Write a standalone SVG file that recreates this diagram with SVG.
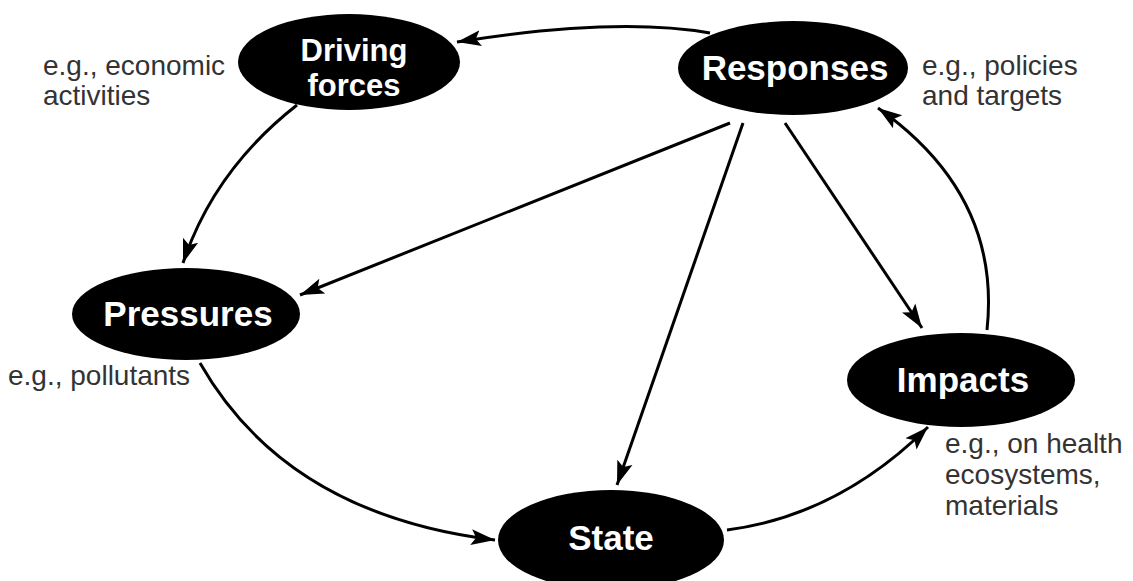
<svg xmlns="http://www.w3.org/2000/svg" width="1133" height="581" viewBox="0 0 1133 581">
<style>
.node{fill:#000}
.lbl{fill:#fff;font-family:"Liberation Sans",Arial,sans-serif;font-weight:bold;font-size:35px;text-anchor:middle}
.lbl2{font-size:31px}
.note{fill:#333;font-family:"Liberation Sans",Arial,sans-serif;font-size:28px}
.conn{fill:none;stroke:#000;stroke-width:3}
</style>
<defs>
<marker id="arr" markerUnits="userSpaceOnUse" markerWidth="26" markerHeight="20" viewBox="0 0 26 20" refX="24" refY="10" orient="auto">
<path d="M0,2 L24,10 L0,18 L5,10 Z" fill="#000"/>
</marker>
</defs>
<rect width="1133" height="581" fill="#fff"/>
<g id="connectors">
<path class="conn" d="M710,33 Q616.5,16.5 457,42" marker-end="url(#arr)"/>
<path class="conn" d="M297,105 Q214,170 183,263" marker-end="url(#arr)"/>
<path class="conn" d="M200,363 Q286.5,514.5 495,540" marker-end="url(#arr)"/>
<path class="conn" d="M727,530 Q838.5,515.5 928,427" marker-end="url(#arr)"/>
<path class="conn" d="M987,330 Q1001.5,195 878,108" marker-end="url(#arr)"/>
<path class="conn" d="M730,123 L300,295" marker-end="url(#arr)"/>
<path class="conn" d="M743,123 L617,485" marker-end="url(#arr)"/>
<path class="conn" d="M785,123 L922,328" marker-end="url(#arr)"/>
</g>
<g id="driving-forces">
<ellipse class="node" cx="349" cy="62" rx="111" ry="48"/>
<text class="lbl lbl2" x="354" y="61">Driving</text>
<text class="lbl lbl2" x="354" y="96">forces</text>
<text class="note" x="43" y="75">e.g., economic</text>
<text class="note" x="43" y="105">activities</text>
</g>
<g id="responses">
<ellipse class="node" cx="793" cy="68" rx="115" ry="47"/>
<text class="lbl" x="795" y="80">Responses</text>
<text class="note" x="922" y="75">e.g., policies</text>
<text class="note" x="922" y="105">and targets</text>
</g>
<g id="pressures">
<ellipse class="node" cx="186" cy="314" rx="114" ry="46"/>
<text class="lbl" x="188" y="326">Pressures</text>
<text class="note" x="8" y="385">e.g., pollutants</text>
</g>
<g id="impacts">
<ellipse class="node" cx="961" cy="380" rx="114" ry="47"/>
<text class="lbl" x="963" y="392">Impacts</text>
<text class="note" x="945" y="453">e.g., on health</text>
<text class="note" x="945" y="484">ecosystems,</text>
<text class="note" x="945" y="515">materials</text>
</g>
<g id="state">
<ellipse class="node" cx="611" cy="540" rx="113" ry="50"/>
<text class="lbl" x="611" y="550">State</text>
</g>
</svg>
